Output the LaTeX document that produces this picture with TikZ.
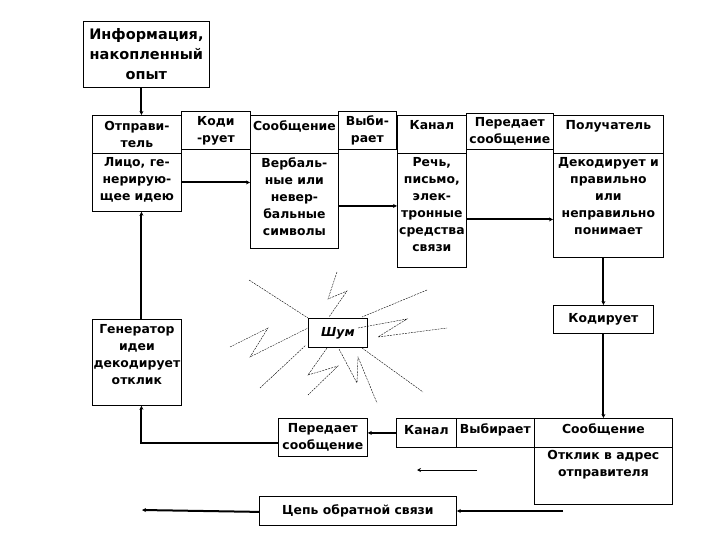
\documentclass[tikz,border=0pt]{standalone}
\usepackage{fontspec}
\setmainfont{DejaVu Sans}
\usetikzlibrary{arrows.meta}
\begin{document}
\begin{tikzpicture}[x=1pt,y=-1pt,
  box/.style={draw,line width=0.8pt,inner sep=0pt},
  txt/.style={font=\fontsize{12.4}{17}\selectfont\bfseries,align=center,inner sep=0pt},
  conn/.style={line width=2pt,-{Stealth[length=4pt,width=4pt]}},
  thinarr/.style={line width=1pt,-{Stealth[length=4pt,width=4pt]}},
  noise/.style={line width=0.4pt,dash pattern=on 2pt off 1pt}]
\useasboundingbox (0,0) rectangle (720,540);
% helper: box from corner coordinates
\def\bx#1#2#3#4#5{\node[box,anchor=north west,minimum width=#4-#2,minimum height=#5-#3] (#1) at (#2,#3) {};}
% top row
\bx{info}{83}{21}{209}{87}
\node[txt,font=\fontsize{14.5}{20}\selectfont\bfseries] (infot) at (info.center) {Информация,\\накопленный\\опыт};
\bx{snh}{92}{115}{181}{153}
\node[txt] (snht) at (snh.center) {Отправи-\\тель};
\bx{snl}{92}{153}{181}{211}
\node[txt,anchor=north] (snlt) at ([yshift=-4pt]snl.north) {Лицо, ге-\\нерирую-\\щее идею};
\bx{cod}{181}{111}{250}{149}
\node[txt] (codt) at (cod.center) {Коди\\-рует};
\bx{msh}{250}{115}{338}{153}
\node[txt,anchor=north] (msht) at ([yshift=-5pt]msh.north) {Сообщение};
\bx{msl}{250}{153}{338}{248}
\node[txt,anchor=north] (mslt) at ([yshift=-4pt]msl.north) {Вербаль-\\ные или\\невер-\\бальные\\символы};
\bx{sel}{338}{111}{396}{149}
\node[txt] (selt) at (sel.center) {Выби-\\рает};
\bx{chh}{397}{115}{466}{153}
\node[txt,anchor=north] (chht) at ([yshift=-5pt]chh.north) {Канал};
\bx{chl}{397}{153}{466}{267}
\node[txt,anchor=north] (chlt) at ([yshift=-4pt]chl.north) {Речь,\\письмо,\\элек-\\тронные\\средства\\связи};
\bx{trn}{466}{113}{553}{149}
\node[txt] (trnt) at (trn.center) {Передает\\сообщение};
\bx{rch}{553}{115}{663}{153}
\node[txt,anchor=north] (rcht) at ([yshift=-5pt]rch.north) {Получатель};
\bx{rcl}{553}{153}{663}{257}
\node[txt,anchor=north] (rclt) at ([yshift=-4pt]rcl.north) {Декодирует и\\правильно\\или\\неправильно\\понимает};
\bx{enc}{553}{305}{653}{333}
\node[txt] (enct) at (enc.center) {Кодирует};
% middle
\bx{gen}{92}{319}{181}{405}
\node[txt,anchor=north] (gent) at ([yshift=-5pt]gen.north) {Генератор\\идеи\\декодирует\\отклик};
\bx{noi}{308}{318}{367}{347}
\node[txt] (noit) at (noi.center) {\itshape Шум};
% bottom row
\bx{trb}{278}{418}{367}{456}
\node[txt] (trbt) at (trb.center) {Передает\\сообщение};
\bx{chb}{396}{418}{456}{447}
\node[txt] (chbt) at ([yshift=3pt]chb.center) {Канал};
\bx{slb}{456}{418}{534}{447}
\node[txt] (slbt) at ([yshift=3pt]slb.center) {Выбирает};
\bx{rmh}{534}{418}{672}{447}
\node[txt] (rmht) at ([yshift=3pt]rmh.center) {Сообщение};
\bx{rml}{534}{447}{672}{504}
\node[txt,anchor=north] (rmlt) at ([yshift=-3pt]rml.north) {Отклик в адрес\\отправителя};
\bx{fb}{259}{496}{456}{525}
\node[txt] (fbt) at (fb.center) {Цепь обратной связи};
% connectors
\draw[conn] ([xshift=-5pt]info.south) -- ([xshift=4.5pt]snh.north);
\draw[conn] (snl.east) -- (msl.west |- snl.east);
\draw[conn] ([yshift=-5pt]msl.east) -- ([yshift=-5pt]msl.east -| chl.west);
\draw[conn] ([yshift=-9pt]chl.east) -- ([yshift=-9pt]chl.east -| rcl.west);
\draw[conn] (rcl.south -| enc.north) -- (enc.north);
\draw[conn] (enc.south) -- (enc.south |- rmh.north);
\draw[conn] (chb.west) -- (trb.east |- chb.west);
\draw[conn] ([yshift=-6pt]trb.west) -| ([xshift=4.5pt]gen.south);
\draw[conn] ([xshift=4.5pt]gen.north) -- ([xshift=4.5pt]snl.south);
\coordinate (fbl) at (142,510);
\coordinate (fbr) at (563,511);
\coordinate (sa1) at (477,470);
\coordinate (sa2) at (417,470);
\draw[conn] ([yshift=-1pt]fb.west) -- (fbl);
\draw[conn] (fbr) -- (fb.east |- fbr);
\draw[thinarr] (sa1) -- (sa2);
% noise rays
\draw[noise] (249,280) -- (308,318);
\draw[noise] (337,272) -- (328,299) -- (347,291) -- (329,317);
\draw[noise] (427,290) -- (362,317);
\draw[noise] (358,328) -- (407,319) -- (378,337) -- (447,328);
\draw[noise] (230,347) -- (268,328) -- (250,357) -- (308,328);
\draw[noise] (260,388) -- (306,345);
\draw[noise] (327,348) -- (308,375) -- (338,366) -- (308,395);
\draw[noise] (339,349) -- (357,383) -- (358,357) -- (377,403);
\draw[noise] (362,348) -- (423,392);
\end{tikzpicture}
\end{document}
